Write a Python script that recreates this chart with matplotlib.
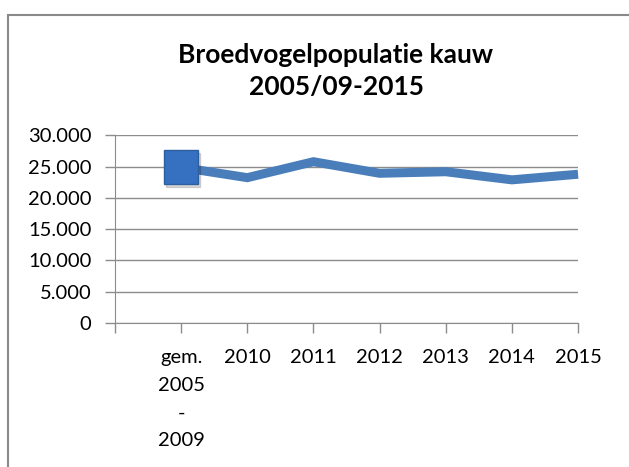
import matplotlib.pyplot as plt
from matplotlib.ticker import FuncFormatter
from matplotlib.patches import Rectangle

# data
categories = ["gem.\n2005\n-\n2009", "2010", "2011", "2012", "2013", "2014", "2015"]
population = [24900, 23250, 25800, 23950, 24200, 22900, 23800]
y_ticks = [0, 5000, 10000, 15000, 20000, 25000, 30000]

line_color = "#4a7ebb"
grid_color = "#8c8c8c"
font = "Lato"

fig = plt.figure(figsize=(6.29, 4.67), dpi=100)
ax = fig.add_axes([0.1828, 0.3084, 0.9190 - 0.1828, 0.7099 - 0.3084])

# chart area border (only left and top visible in the picture)
fig.patches.append(Rectangle((8 / 629, -0.1), 1.0, (467 - 15) / 467 + 0.1,
                             transform=fig.transFigure, fill=False,
                             edgecolor="#8a8a8a", linewidth=1.5))

x = list(range(1, len(categories) + 1))
ax.plot(x, population, color=line_color, linewidth=6.5, solid_joinstyle="miter",
        solid_capstyle="butt", clip_on=False, zorder=3)
# shadow + big square marker on the first point only
ax.plot([x[0] + 0.03], [population[0] - 350], marker="s", markersize=25,
        color="#000000", alpha=0.15, linestyle="none", clip_on=False, zorder=3)
ax.plot([x[0]], [population[0]], marker="s", markersize=24.5,
        markerfacecolor="#3571c0", markeredgecolor="#2d5f9f", markeredgewidth=1,
        linestyle="none", clip_on=False, zorder=4)

ax.set_xlim(0, 7)
ax.set_ylim(0, 30000)
ax.set_yticks(y_ticks)
ax.yaxis.set_major_formatter(FuncFormatter(lambda v, p: f"{int(v):,}".replace(",", ".")))
ax.set_xticks(range(0, 8))
ax.set_xticklabels([""] + categories, fontfamily=font, fontsize=14.5,
                   linespacing=1.76)
for lbl in ax.get_yticklabels():
    lbl.set_fontfamily(font)
    lbl.set_fontsize(14.5)

ax.grid(axis="y", color=grid_color, linewidth=1)
ax.set_axisbelow(True)
for side in ["top", "right"]:
    ax.spines[side].set_visible(False)
for side in ["left", "bottom"]:
    ax.spines[side].set_color(grid_color)
ax.tick_params(axis="both", color=grid_color, length=7, width=1)
ax.tick_params(axis="y", pad=10)
ax.tick_params(axis="x", pad=12)

fig.text(336 / 629, 1 - 55 / 467, "Broedvogelpopulatie kauw", ha="center", va="center",
         fontfamily=font, fontsize=19, fontweight="bold")
fig.text(336 / 629, 1 - 87 / 467, "2005/09-2015", ha="center", va="center",
         fontfamily=font, fontsize=19, fontweight="bold")

fig.savefig("out.png", dpi=100)
